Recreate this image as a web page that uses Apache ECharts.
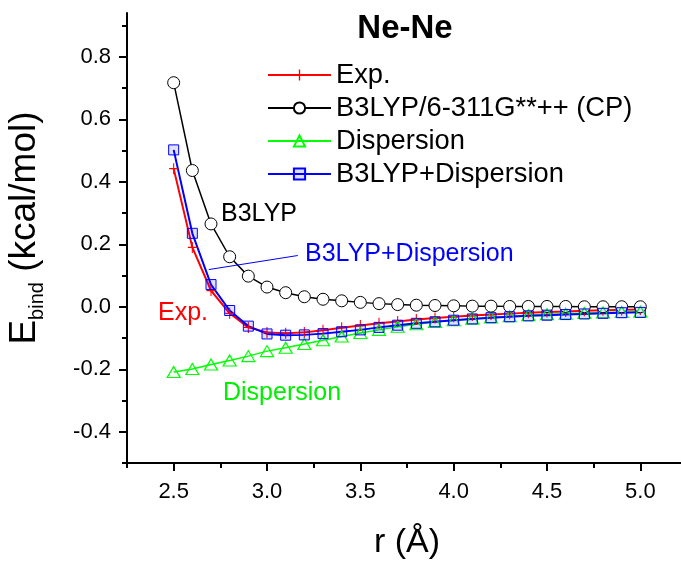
<!DOCTYPE html>
<html>
<head>
<meta charset="utf-8">
<script src="https://cdn.jsdelivr.net/npm/echarts@6/dist/echarts.min.js"></script>
<style>
  html, body { margin: 0; padding: 0; background: #fff; }
  #chart { width: 681px; height: 561px; }
</style>
</head>
<body>
<div id="chart"></div>
<script>
// Ne-Ne binding energy curves (kcal/mol) vs. separation r (Å)
const r = [2.5, 2.6, 2.7, 2.8, 2.9, 3.0, 3.1, 3.2, 3.3, 3.4, 3.5, 3.6, 3.7,
           3.8, 3.9, 4.0, 4.1, 4.2, 4.3, 4.4, 4.5, 4.6, 4.7, 4.8, 4.9, 5.0];

const expE = [0.442, 0.190, 0.052, -0.021, -0.066, -0.082, -0.085, -0.082, -0.075,
              -0.067, -0.060, -0.053, -0.047, -0.041, -0.036, -0.032, -0.028, -0.025,
              -0.022, -0.019, -0.017, -0.015, -0.013, -0.011, -0.010, -0.009];

const b3lypE = [0.717, 0.436, 0.265, 0.160, 0.098, 0.063, 0.045, 0.032, 0.024,
                0.019, 0.014, 0.010, 0.007, 0.005, 0.004, 0.003, 0.002, 0.002,
                0.001, 0.001, 0.001, 0.001, 0.000, 0.000, 0.000, 0.000];

const dispE = [-0.209, -0.199, -0.185, -0.172, -0.158, -0.142, -0.131, -0.119, -0.107,
               -0.095, -0.084, -0.074, -0.064, -0.056, -0.049, -0.043, -0.038, -0.034,
               -0.030, -0.027, -0.024, -0.022, -0.020, -0.018, -0.017, -0.016];

const b3lypDispE = [0.502, 0.235, 0.071, -0.012, -0.062, -0.087, -0.091, -0.090, -0.086,
                    -0.080, -0.074, -0.066, -0.059, -0.053, -0.048, -0.043, -0.039, -0.035,
                    -0.032, -0.029, -0.027, -0.025, -0.023, -0.021, -0.019, -0.018];

const seriesNames = ['Exp.', 'B3LYP/6-311G**++ (CP)', 'Dispersion', 'B3LYP+Dispersion'];

// axis ticks
const xMajor = [2.5, 3.0, 3.5, 4.0, 4.5, 5.0];
const xMinor = [2.25, 2.75, 3.25, 3.75, 4.25, 4.75, 5.25];
const yMajor = [-0.4, -0.2, 0.0, 0.2, 0.4, 0.6, 0.8];
const yMinor = [-0.5, -0.3, -0.1, 0.1, 0.3, 0.5, 0.7, 0.9];

// leader line from the curve to its "B3LYP+Dispersion" label (data units)
const calloutFrom = [2.688, 0.119];
const calloutTo = [3.165, 0.164];

const FONT = '"Liberation Sans", Arial, Helvetica, sans-serif';
const X_RANGE = [2.25, 5.25];
const Y_RANGE = [-0.5, 0.94];
const PLUS = 'path://M0,4.4H10V5.6H0ZM4.4,0H5.6V10H4.4Z';

const pairs = ys => r.map((x, i) => [x, ys[i]]);
const gridBox = { left: 127, top: 13, right: -6, bottom: 98, outerBoundsMode: 'none', containLabel: false };

const chart = echarts.init(document.getElementById('chart'), null, { renderer: 'canvas' });

chart.setOption({
  animation: false,
  backgroundColor: '#fff',
  grid: [Object.assign({}, gridBox), Object.assign({}, gridBox)],
  xAxis: [
    {
      type: 'value', gridIndex: 0, min: X_RANGE[0], max: X_RANGE[1],
      name: 'r (Å)', nameLocation: 'middle', nameGap: 63,
      nameTextStyle: { fontFamily: FONT, fontSize: 34, color: '#000' },
      axisLine: { show: true, onZero: false, lineStyle: { color: '#000', width: 2 } },
      axisTick: { show: true, inside: false, length: 8, customValues: xMajor, lineStyle: { color: '#000', width: 2 } },
      axisLabel: { show: true, customValues: xMajor, margin: 18, fontFamily: FONT, fontSize: 22, color: '#000',
                   formatter: v => v.toFixed(1) },
      splitLine: { show: false }
    },
    {
      type: 'value', gridIndex: 1, min: X_RANGE[0], max: X_RANGE[1],
      axisLine: { show: false, onZero: false },
      axisTick: { show: true, inside: false, length: 5, customValues: xMinor, lineStyle: { color: '#000', width: 2 } },
      axisLabel: { show: false },
      splitLine: { show: false }
    }
  ],
  yAxis: [
    {
      type: 'value', gridIndex: 0, min: Y_RANGE[0], max: Y_RANGE[1],
      axisLine: { show: true, onZero: false, lineStyle: { color: '#000', width: 2 } },
      axisTick: { show: true, inside: false, length: 8, customValues: yMajor, lineStyle: { color: '#000', width: 2 } },
      axisLabel: { show: true, customValues: yMajor, margin: 16, fontFamily: FONT, fontSize: 22, color: '#000',
                   formatter: v => v.toFixed(1) },
      splitLine: { show: false }
    },
    {
      type: 'value', gridIndex: 1, min: Y_RANGE[0], max: Y_RANGE[1],
      axisLine: { show: false, onZero: false },
      axisTick: { show: true, inside: false, length: 5, customValues: yMinor, lineStyle: { color: '#000', width: 2 } },
      axisLabel: { show: false },
      splitLine: { show: false }
    }
  ],
  legend: {
    orient: 'vertical', left: 267, top: 60, padding: 0,
    itemWidth: 63, itemHeight: 14, itemGap: 3,
    textStyle: { fontFamily: FONT, fontSize: 27.3, color: '#000', lineHeight: 30 },
    data: seriesNames
  },
  series: [
    {
      name: seriesNames[0], type: 'line', xAxisIndex: 0, yAxisIndex: 0,
      data: pairs(expE),
      symbol: PLUS, symbolSize: [9, 11],
      itemStyle: { color: '#ff0000' },
      lineStyle: { color: '#ff0000', width: 2 },
      emphasis: { disabled: true }
    },
    {
      name: seriesNames[1], type: 'line', xAxisIndex: 0, yAxisIndex: 0,
      data: pairs(b3lypE),
      symbol: 'circle', symbolSize: 12,
      itemStyle: { color: '#ffffff', borderColor: '#000000', borderWidth: 1 },
      lineStyle: { color: '#000000', width: 1.5 },
      emphasis: { disabled: true }
    },
    {
      name: seriesNames[2], type: 'line', xAxisIndex: 0, yAxisIndex: 0,
      data: pairs(dispE),
      symbol: 'triangle', symbolSize: [13, 11],
      itemStyle: { color: 'rgba(255,255,255,0)', borderColor: '#00ff00', borderWidth: 1.2 },
      lineStyle: { color: '#00ff00', width: 1.5 },
      emphasis: { disabled: true }
    },
    {
      name: seriesNames[3], type: 'line', xAxisIndex: 0, yAxisIndex: 0,
      data: pairs(b3lypDispE),
      symbol: 'rect', symbolSize: 10,
      itemStyle: { color: 'rgba(0,0,255,0.12)', borderColor: '#0000ff', borderWidth: 1 },
      lineStyle: { color: '#0000ff', width: 2 },
      emphasis: { disabled: true },
      markLine: {
        silent: true, symbol: ['none', 'none'], animation: false,
        label: { show: false },
        lineStyle: { color: '#0000ff', width: 1, type: 'solid' },
        emphasis: { disabled: true },
        data: [[{ coord: calloutFrom }, { coord: calloutTo }]]
      }
    }
  ],
  graphic: [
    { type: 'text', x: 405, y: 29,
      style: { text: 'Ne-Ne', fontFamily: FONT, fontSize: 33, fontWeight: 'bold', fill: '#000', align: 'center', verticalAlign: 'middle' } },
    { type: 'text', x: 221, y: 214,
      style: { text: 'B3LYP', fontFamily: FONT, fontSize: 25, fill: '#000', align: 'left', verticalAlign: 'middle' } },
    { type: 'text', x: 305, y: 254,
      style: { text: 'B3LYP+Dispersion', fontFamily: FONT, fontSize: 25, fill: '#0000ff', align: 'left', verticalAlign: 'middle' } },
    { type: 'text', x: 158, y: 313,
      style: { text: 'Exp.', fontFamily: FONT, fontSize: 25, fill: '#ff0000', align: 'left', verticalAlign: 'middle' } },
    { type: 'text', x: 223, y: 393,
      style: { text: 'Dispersion', fontFamily: FONT, fontSize: 25, fill: '#00ee00', align: 'left', verticalAlign: 'middle' } },
    { type: 'text', x: 25, y: 228, rotation: Math.PI / 2,
      style: {
        text: '{m|E}{s|bind}{m| (kcal/mol)}',
        align: 'center', verticalAlign: 'middle',
        rich: {
          m: { fontFamily: FONT, fontSize: 37, lineHeight: 40, fill: '#000', color: '#000' },
          s: { fontFamily: FONT, fontSize: 20, lineHeight: 14, padding: [25, 0, 0, 0], fill: '#000', color: '#000' }
        }
      } }
  ]
});
</script>
</body>
</html>
